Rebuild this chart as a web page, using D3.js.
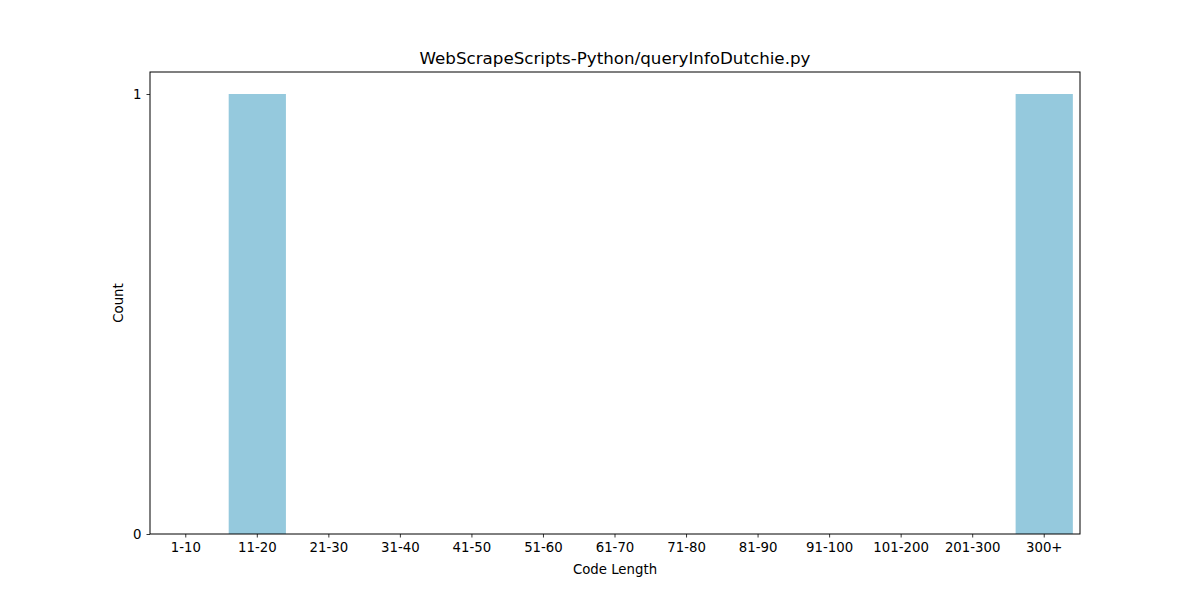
<!DOCTYPE html>
<html>
<head>
<meta charset="utf-8">
<script src="https://cdn.jsdelivr.net/npm/d3@7"></script>
<style>
  body { margin: 0; background: #fff; }
  text { font-family: "DejaVu Sans", sans-serif; fill: #000; }
</style>
</head>
<body>
<div id="chart"></div>
<script>
// data
const categories = ["1-10", "11-20", "21-30", "31-40", "41-50", "51-60", "61-70",
                    "71-80", "81-90", "91-100", "101-200", "201-300", "300+"]
const counts = [0, 1, 0, 0, 0, 0, 0, 0, 0, 0, 0, 0, 1]
const yTicks = [0, 1]
const title = "WebScrapeScripts-Python/queryInfoDutchie.py"

const W = 1200, H = 600
const m = {left: 150, right: 120, top: 72, bottom: 66}
const iw = W - m.left - m.right, ih = H - m.top - m.bottom

const svg = d3.select("#chart").append("svg")
  .attr("width", W).attr("height", H)

const g = svg.append("g").attr("transform", `translate(${m.left},${m.top})`)

const x = d3.scaleBand().domain(categories).range([0, iw])
  .paddingInner(0.2).paddingOuter(0.1)
const y = d3.scaleLinear().domain([0, 1.05]).range([ih, 0])

g.selectAll("rect.bar").data(counts).join("rect")
  .attr("class", "bar")
  .attr("x", (d, i) => x(categories[i]))
  .attr("y", d => y(d))
  .attr("width", x.bandwidth())
  .attr("height", d => ih - y(d))
  .attr("fill", "#95c9dd")

// axes
const xAxis = g.append("g").attr("transform", `translate(0,${ih})`)
  .call(d3.axisBottom(x).tickSize(3.5).tickPadding(5))
const yAxis = g.append("g")
  .call(d3.axisLeft(y).tickValues(yTicks).tickFormat(d3.format("d")).tickSize(3.5).tickPadding(5))
;[xAxis, yAxis].forEach(a => {
  a.select(".domain").remove()
  a.selectAll("text").style("font-size", "13.3px").attr("fill", "#000")
  a.selectAll("line").attr("stroke", "#000").attr("stroke-width", 0.8)
})

// frame
g.append("rect").attr("width", iw).attr("height", ih)
  .attr("fill", "none").attr("stroke", "#000").attr("stroke-width", 1)

svg.append("text").attr("x", m.left + iw / 2).attr("y", m.top - 8)
  .attr("text-anchor", "middle").style("font-size", "16.7px").text(title)

svg.append("text").attr("x", m.left + iw / 2).attr("y", 574)
  .attr("text-anchor", "middle").style("font-size", "13.3px").text("Code Length")

svg.append("text").attr("transform", `translate(123,${m.top + ih / 2}) rotate(-90)`)
  .attr("text-anchor", "middle").style("font-size", "13.3px").text("Count")
</script>
</body>
</html>
